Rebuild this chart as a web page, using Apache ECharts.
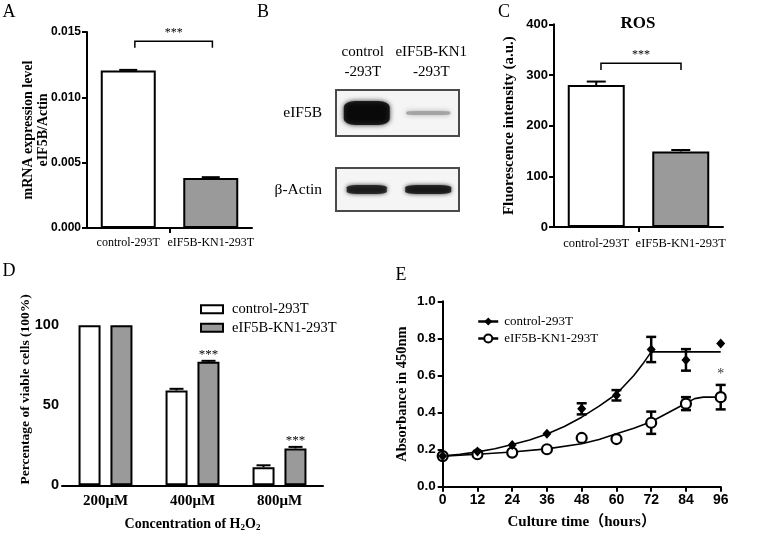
<!DOCTYPE html>
<html><head><meta charset="utf-8">
<script src="https://cdn.jsdelivr.net/npm/echarts@6/dist/echarts.min.js"></script>
<style>html,body{margin:0;padding:0;background:#fff}#c{width:763px;height:549px}</style>
</head><body><div id="c"></div>
<script>
// ---------- data ----------
// Panel A: mRNA expression
const groupsAC = ['control-293T', 'eIF5B-KN1-293T'];
const mrnaValues = [0.01205, 0.00383];
const mrnaErrors = [0.00005, 0.00006];
const mrnaAxis = [0, 0.015, 0.005];           // min, max, interval
const mrnaBracket = [0.58, 1.52, 0.0143, 0.0138]; // x1, x2, y, drop
// Panel B: western blot
const blotLanes = ['control\n-293T', 'eIF5B-KN1\n-293T'];
const blotProteins = ['eIF5B', 'β-Actin'];
const blotEIF5B = [1.0, 0.4];
const blotActin = [0.93, 0.95];
// Panel C: ROS
const rosValues = [280, 149];
const rosErrors = [7, 3];
const rosAxis = [0, 400, 100];
const rosBracket = [0.556, 1.503, 323, 310];
// Panel D: viability
const h2o2Doses = ['200μM', '400μM', '800μM'];
const viabilityControl = [100, 59.3, 11.3];
const viabilityControlErr = [0, 1.0, 1.2];
const viabilityKN1 = [100, 77.2, 23.0];
const viabilityKN1Err = [0, 0.6, 1.0];
const viabilitySig = ['', '***', '***'];
const viabilityTicks = [0, 50, 100];
// Panel E: growth curve
const cultureHours = [0, 12, 24, 36, 48, 60, 72, 84, 96];
const absControl = [0.165, 0.19, 0.225, 0.285, 0.42, 0.493, 0.74, 0.684, 0.773];
const absControlErr = [0, 0, 0, 0, 0.03, 0.028, 0.068, 0.058, 0];
const absKN1 = [0.165, 0.175, 0.184, 0.202, 0.263, 0.257, 0.345, 0.448, 0.483];
const absKN1Err = [0, 0, 0, 0, 0, 0, 0.06, 0.035, 0.066];
const fitControlHours = [0, 6, 12, 18, 24, 30, 36, 42, 48, 54, 60, 66, 69, 72, 96];
const fitControlAbs = [0.165, 0.175, 0.188, 0.205, 0.228, 0.252, 0.284, 0.325, 0.375, 0.435, 0.5, 0.6, 0.66, 0.727, 0.727];
const fitKN1Hours = [0, 12, 24, 36, 48, 54, 60, 66, 72, 78, 84, 87, 90, 96];
const fitKN1Abs = [0.165, 0.175, 0.187, 0.204, 0.232, 0.255, 0.285, 0.315, 0.35, 0.40, 0.45, 0.475, 0.483, 0.483];
const growthSig = [[96, 0.62]];

// ---------- styles ----------
const SERIF = '"Liberation Serif","Times New Roman","Noto Sans CJK SC",serif';
const SANS = '"Liberation Sans",Arial,sans-serif';
const GREY = '#9a9a9a';
const AX = { lineStyle: { color: '#000', width: 2 } };
const TICK = { length: 5, lineStyle: { color: '#000', width: 2 } };
const numLabel = (size, margin, fmt) => ({ fontFamily: SANS, fontWeight: 'bold', fontSize: size, color: '#000', margin: margin, formatter: fmt });
const nameStyle = (size) => ({ fontFamily: SERIF, fontWeight: 'bold', fontSize: size, color: '#000' });

function errorSeries(idx, data, offsetPx, halfCap, both, lw, z) {
  return {
    type: 'custom', xAxisIndex: idx, yAxisIndex: idx, silent: true, z: z || 5, data: data,
    renderItem: function (params, api) {
      const x = api.value(0), y = api.value(1), e = api.value(2);
      if (!e) return { type: 'group', children: [] };
      const c = api.coord([x, y]), t = api.coord([x, y + e]), b = api.coord([x, y - e]);
      const cx = c[0] + offsetPx;
      const st = { stroke: '#000', lineWidth: lw };
      const ch = [
        { type: 'line', shape: { x1: cx, y1: t[1], x2: cx, y2: both ? b[1] : c[1] }, style: st },
        { type: 'line', shape: { x1: cx - halfCap, y1: t[1], x2: cx + halfCap, y2: t[1] }, style: st }
      ];
      if (both) ch.push({ type: 'line', shape: { x1: cx - halfCap, y1: b[1], x2: cx + halfCap, y2: b[1] }, style: st });
      return { type: 'group', children: ch };
    }
  };
}
function bracketSeries(idx, br, text) {
  return {
    type: 'custom', xAxisIndex: idx, yAxisIndex: idx, silent: true, z: 6, data: [br],
    renderItem: function (params, api) {
      const x1 = api.value(0), x2 = api.value(1), y = api.value(2), yd = api.value(3);
      const p1 = api.coord([x1, yd]), p2 = api.coord([x1, y]), p3 = api.coord([x2, y]), p4 = api.coord([x2, yd]);
      return { type: 'group', children: [
        { type: 'polyline', shape: { points: [p1, p2, p3, p4] }, style: { stroke: '#000', lineWidth: 1.5, fill: null } },
        { type: 'text', x: (p2[0] + p3[0]) / 2, y: p2[1] - 8, style: { text: text, fontFamily: SERIF, fontSize: 12, fill: '#000', align: 'center', verticalAlign: 'middle' } }
      ] };
    }
  };
}
const grey = v => { const g = Math.round(255 * (1 - v)); return 'rgb(' + g + ',' + g + ',' + g + ')'; };
const lanePad = [[0, 8, 0, 0], [0, 0, 0, 6]];

const option = {
  animation: false,
  backgroundColor: '#fff',
  grid: [
    { left: 87, top: 32, width: 165, height: 196 },                       // A
    { left: 336, top: 90, width: 123, height: 46, show: true, borderColor: '#4a4a4a', borderWidth: 2, backgroundColor: '#f5f5f5' }, // B1
    { left: 336, top: 168, width: 123, height: 43, show: true, borderColor: '#4a4a4a', borderWidth: 2, backgroundColor: '#f5f5f5' }, // B2
    { left: 554, top: 24.3, width: 169, height: 202.7 },                   // C
    { left: 62, top: 293.3, width: 261, height: 192 },                      // D
    { left: 442.7, top: 301.3, width: 278, height: 185.4 }                  // E
  ],
  xAxis: [
    { gridIndex: 0, type: 'value', min: 0, max: 2, axisLine: AX, axisTick: Object.assign({ customValues: [1] }, TICK),
      axisLabel: { customValues: [0.5, 1.5], formatter: v => groupsAC[Math.floor(v)], fontFamily: SERIF, fontSize: 12, color: '#000', margin: 9, hideOverlap: false }, splitLine: { show: false } },
    { gridIndex: 1, type: 'category', position: 'top', axisLine: { show: false }, axisTick: { show: false },
      data: blotLanes.map((l, i) => ({ value: l, textStyle: { padding: lanePad[i] } })),
      axisLabel: { interval: 0, hideOverlap: false, fontFamily: SERIF, fontSize: 15, color: '#000', lineHeight: 20, margin: 8 } },
    { gridIndex: 2, type: 'category', data: blotLanes, show: false },
    { gridIndex: 3, type: 'value', min: 0, max: 2, axisLine: AX, axisTick: Object.assign({ customValues: [1] }, TICK),
      axisLabel: { customValues: [0.5, 1.5], formatter: v => groupsAC[Math.floor(v)], fontFamily: SERIF, fontSize: 12.5, color: '#000', margin: 10, hideOverlap: false }, splitLine: { show: false } },
    { gridIndex: 4, type: 'category', data: h2o2Doses, axisLine: AX, axisTick: Object.assign({ alignWithLabel: true }, TICK),
      axisLabel: { interval: 0, fontFamily: SERIF, fontWeight: 'bold', fontSize: 15, color: '#000', margin: 8 },
      name: '{n|Concentration of H}{s|2}{n|O}{s|2}', nameLocation: 'middle', nameGap: 32, nameMoveOverlap: false,
      nameTextStyle: { rich: { n: nameStyle(14), s: Object.assign(nameStyle(9), { verticalAlign: 'bottom', padding: [6, 0, 0, 0] }) } } },
    { gridIndex: 5, type: 'value', min: 0, max: 96, interval: 12, axisLine: AX, axisTick: TICK, splitLine: { show: false },
      axisLabel: numLabel(14, 6),
      name: 'Culture time（hours）', nameLocation: 'middle', nameGap: 28, nameMoveOverlap: false, nameTextStyle: nameStyle(15) }
  ],
  yAxis: [
    { gridIndex: 0, type: 'value', min: mrnaAxis[0], max: mrnaAxis[1], interval: mrnaAxis[2], axisLine: AX, axisTick: TICK, splitLine: { show: false },
      axisLabel: numLabel(12, 6, v => v.toFixed(3)),
      name: 'mRNA expression level\neIF5B/Actin', nameLocation: 'middle', nameGap: 36, nameMoveOverlap: false,
      nameTextStyle: Object.assign(nameStyle(14), { lineHeight: 15 }) },
    { gridIndex: 1, type: 'category', data: [blotProteins[0]], axisLine: { show: false }, axisTick: { show: false },
      axisLabel: { fontFamily: SERIF, fontSize: 15.5, color: '#000', margin: 14 } },
    { gridIndex: 2, type: 'category', data: [blotProteins[1]], axisLine: { show: false }, axisTick: { show: false },
      axisLabel: { fontFamily: SERIF, fontSize: 15.5, color: '#000', margin: 14 } },
    { gridIndex: 3, type: 'value', min: rosAxis[0], max: rosAxis[1], interval: rosAxis[2], axisLine: AX, axisTick: TICK, splitLine: { show: false },
      axisLabel: numLabel(13, 6),
      name: 'Fluorescence intensity (a.u.)', nameLocation: 'middle', nameGap: 37, nameMoveOverlap: false, nameTextStyle: nameStyle(15) },
    { gridIndex: 4, type: 'value', min: 0, max: 120, axisLine: AX, axisTick: Object.assign({ customValues: viabilityTicks }, TICK), splitLine: { show: false },
      axisLabel: Object.assign(numLabel(14.5, 3), { customValues: viabilityTicks }),
      name: 'Percentage of viable cells (100%)', nameLocation: 'middle', nameGap: 29.5, nameMoveOverlap: false, nameTextStyle: nameStyle(13.5) },
    { gridIndex: 5, type: 'value', min: 0, max: 1, interval: 0.2, axisLine: AX, axisTick: TICK, splitLine: { show: false },
      axisLabel: numLabel(13.5, 7, v => v.toFixed(1)),
      name: 'Absorbance in 450nm', nameLocation: 'middle', nameGap: 33, nameMoveOverlap: false, nameTextStyle: nameStyle(14.5) }
  ],
  legend: [
    { data: ['D:control-293T', 'D:eIF5B-KN1-293T'], formatter: n => n.slice(2), orient: 'vertical', left: 195, top: 297,
      itemWidth: 22, itemHeight: 8, itemGap: 4, icon: 'rect', selectedMode: false,
      textStyle: { fontFamily: SERIF, fontSize: 14.5, color: '#000', padding: [0, 0, 0, 4] } },
    { data: ['E:control-293T', 'E:eIF5B-KN1-293T'], formatter: n => n.slice(2), orient: 'vertical', left: 472, top: 310,
      itemWidth: 20, itemHeight: 10, itemGap: 4, selectedMode: false, lineStyle: { width: 2.5 },
      textStyle: { fontFamily: SERIF, fontSize: 13, color: '#000', padding: [0, 0, 0, 1] } }
  ],
  graphic: [
    { type: 'text', x: 9, y: 12, style: { text: 'A', fontFamily: SERIF, fontSize: 18, fill: '#000', align: 'center', verticalAlign: 'middle' } },
    { type: 'text', x: 263, y: 12, style: { text: 'B', fontFamily: SERIF, fontSize: 18, fill: '#000', align: 'center', verticalAlign: 'middle' } },
    { type: 'text', x: 504, y: 12, style: { text: 'C', fontFamily: SERIF, fontSize: 18, fill: '#000', align: 'center', verticalAlign: 'middle' } },
    { type: 'text', x: 9, y: 271, style: { text: 'D', fontFamily: SERIF, fontSize: 18, fill: '#000', align: 'center', verticalAlign: 'middle' } },
    { type: 'text', x: 401, y: 275, style: { text: 'E', fontFamily: SERIF, fontSize: 18, fill: '#000', align: 'center', verticalAlign: 'middle' } },
    { type: 'text', x: 638, y: 24, style: { text: 'ROS', fontFamily: SERIF, fontWeight: 'bold', fontSize: 17, fill: '#000', align: 'center', verticalAlign: 'middle' } }
  ],
  series: [
    // A
    { type: 'bar', xAxisIndex: 0, yAxisIndex: 0, barWidth: 55, z: 3,
      itemStyle: { borderColor: '#000', borderWidth: 2 },
      data: mrnaValues.map((v, i) => ({ value: [i + 0.5, v], itemStyle: { color: i ? GREY : '#fff' } })) },
    errorSeries(0, mrnaValues.map((v, i) => [i + 0.5, v, mrnaErrors[i]]), 0, 9, false, 2),
    bracketSeries(0, mrnaBracket, '***'),
    // B
    { type: 'scatter', xAxisIndex: 1, yAxisIndex: 1, symbol: 'roundRect',
      symbolSize: (val, p) => p.dataIndex === 0 ? [46, 24] : [44, 4],
      data: blotEIF5B.map((v, i) => ({ value: [i, 0], itemStyle: { color: grey(v), shadowBlur: 5, shadowColor: grey(v) } })) },
    { type: 'scatter', xAxisIndex: 2, yAxisIndex: 2, symbol: 'roundRect',
      symbolSize: (val, p) => p.dataIndex === 0 ? [40, 9] : [46, 9],
      data: blotActin.map((v, i) => ({ value: [i, 0], itemStyle: { color: grey(v), shadowBlur: 4, shadowColor: grey(v) } })) },
    // C
    { type: 'bar', xAxisIndex: 3, yAxisIndex: 3, barWidth: 57, z: 3,
      itemStyle: { borderColor: '#000', borderWidth: 2 },
      data: rosValues.map((v, i) => ({ value: [i + 0.5, v], itemStyle: { color: i ? GREY : '#fff' } })) },
    errorSeries(3, rosValues.map((v, i) => [i + 0.5, v, rosErrors[i]]), 0, 9.5, false, 2),
    bracketSeries(3, rosBracket, '***'),
    // D
    { type: 'bar', name: 'D:control-293T', xAxisIndex: 4, yAxisIndex: 4, barWidth: 22, barGap: '45%', z: 3,
      itemStyle: { color: '#fff', borderColor: '#000', borderWidth: 2 }, data: viabilityControl },
    { type: 'bar', name: 'D:eIF5B-KN1-293T', xAxisIndex: 4, yAxisIndex: 4, barWidth: 22, barGap: '45%', z: 3,
      itemStyle: { color: GREY, borderColor: '#000', borderWidth: 2 }, data: viabilityKN1,
      label: { show: true, position: 'top', distance: 1, formatter: p => viabilitySig[p.dataIndex], fontFamily: SERIF, fontSize: 13, color: '#000' } },
    errorSeries(4, viabilityControl.map((v, i) => [i, v, viabilityControlErr[i]]), -16, 7, false, 2),
    errorSeries(4, viabilityKN1.map((v, i) => [i, v, viabilityKN1Err[i]]), 16, 7, false, 2),
    // E
    { type: 'line', name: 'E:control-293T', xAxisIndex: 5, yAxisIndex: 5, symbol: 'diamond', showSymbol: false, z: 3,
      lineStyle: { color: '#000', width: 1.6 }, itemStyle: { color: '#000' },
      data: fitControlHours.map((h, i) => [h, fitControlAbs[i]]) },
    { type: 'line', name: 'E:eIF5B-KN1-293T', xAxisIndex: 5, yAxisIndex: 5, symbol: 'emptyCircle', showSymbol: false, z: 3,
      lineStyle: { color: '#000', width: 1.6 }, itemStyle: { color: '#000' },
      data: fitKN1Hours.map((h, i) => [h, fitKN1Abs[i]]) },
    errorSeries(5, cultureHours.map((h, i) => [h, absControl[i], absControlErr[i]]), 0, 5, true, 2.5, 4),
    errorSeries(5, cultureHours.map((h, i) => [h, absKN1[i], absKN1Err[i]]), 0, 5, true, 2.5, 4),
    { type: 'scatter', xAxisIndex: 5, yAxisIndex: 5, symbol: 'circle', symbolSize: 10, z: 6,
      itemStyle: { color: '#fff', borderColor: '#000', borderWidth: 2.2, opacity: 1 },
      data: cultureHours.map((h, i) => [h, absKN1[i]]) },
    { type: 'scatter', xAxisIndex: 5, yAxisIndex: 5, symbol: 'diamond', symbolSize: [9, 10], z: 7,
      itemStyle: { color: '#000', opacity: 1 },
      data: cultureHours.map((h, i) => [h, absControl[i]]) },
    { type: 'scatter', xAxisIndex: 5, yAxisIndex: 5, symbolSize: 0, z: 7,
      label: { show: true, position: 'inside', formatter: '*', fontFamily: SERIF, fontSize: 14, color: '#000', offset: [0, 3] },
      data: growthSig }
  ]
};
const chart = echarts.init(document.getElementById('c'), null, { renderer: 'canvas' });
chart.setOption(option);
</script></body></html>
